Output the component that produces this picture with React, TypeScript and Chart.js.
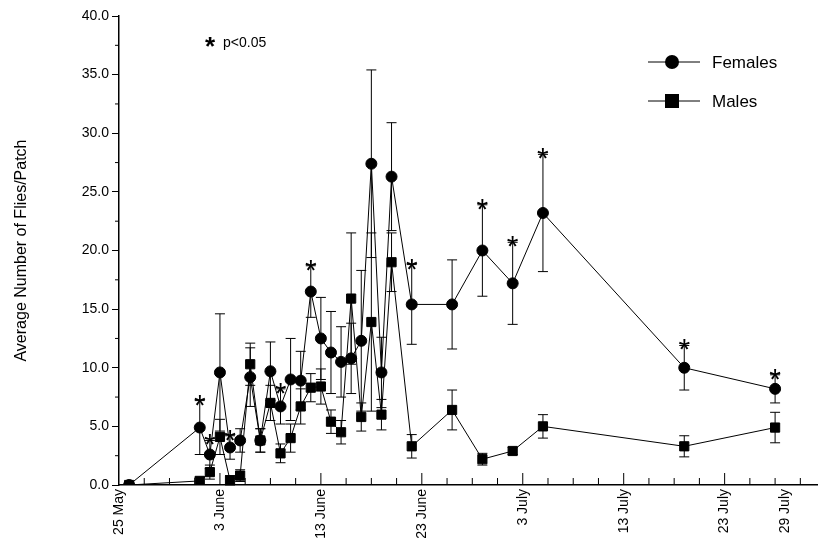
import { useEffect, useRef } from "react"
import { Chart, registerables } from "chart.js"

Chart.register(...registerables)

// x in axis units (10 units between major ticks)
const days = [1, 8, 9, 10, 11, 12, 13, 14, 15, 16, 17, 18, 19, 20, 21, 22, 23, 24, 25, 26, 27, 29, 33, 36, 39, 42, 56, 65]
const females = [0, 4.9, 2.6, 9.6, 3.2, 3.8, 9.2, 3.8, 9.7, 6.7, 9.0, 8.9, 16.5, 12.5, 11.3, 10.5, 10.8, 12.3, 27.4, 9.6, 26.3, 15.4, 15.4, 20.0, 17.2, 23.2, 10.0, 8.2]
const femalesErr = [0, 2.3, 1.2, 5.0, 1.0, 1.0, 2.5, 1.0, 2.5, 1.5, 3.5, 2.5, 2.2, 3.5, 3.5, 3.0, 3.0, 6.0, 8.0, 3.0, 4.6, 3.4, 3.8, 3.9, 3.5, 5.0, 1.9, 1.2]
const males = [0, 0.35, 1.1, 4.1, 0.4, 0.8, 10.3, 3.8, 7.0, 2.7, 4.0, 6.7, 8.3, 8.4, 5.4, 4.5, 15.9, 5.8, 13.9, 6.0, 19.0, 3.3, 6.4, 2.2, 2.9, 5.0, 3.3, 4.9]
const malesErr = [0, 0.3, 0.6, 1.5, 0.4, 0.5, 1.8, 1.0, 1.5, 0.8, 1.2, 1.5, 1.2, 1.5, 1.0, 1.0, 5.6, 1.2, 7.6, 1.3, 2.5, 1.0, 1.7, 0.5, 0.3, 1.0, 0.9, 1.3]
const significant = [8, 9, 11, 16, 19, 29, 36, 39, 42, 56, 65]
const tickValues = [0, 10, 20, 30, 40, 50, 60, 66]
const tickLabels = ["25 May", "3 June", "13 June", "23 June", "3 July", "13 July", "23 July", "29 July"]

const FONT = "'Liberation Sans', Arial, sans-serif"

const extrasPlugin = {
  id: "extras",
  afterDatasetsDraw(chart: any) {
    const { ctx, scales } = chart
    const x = scales.x
    const y = scales.y
    ctx.save()
    ctx.strokeStyle = "#000"
    ctx.lineWidth = 1
    // error bars
    const bars = (vals: number[], errs: number[]) => {
      vals.forEach((v, i) => {
        if (!errs[i]) return
        const px = x.getPixelForValue(days[i])
        const top = y.getPixelForValue(v + errs[i])
        const bot = y.getPixelForValue(Math.max(0, v - errs[i]))
        ctx.beginPath()
        ctx.moveTo(px, top)
        ctx.lineTo(px, bot)
        ctx.moveTo(px - 5, top)
        ctx.lineTo(px + 5, top)
        ctx.moveTo(px - 5, bot)
        ctx.lineTo(px + 5, bot)
        ctx.stroke()
      })
    }
    bars(females, femalesErr)
    bars(males, malesErr)
    // significance stars
    ctx.fillStyle = "#000"
    ctx.font = `30px ${FONT}`
    ctx.textAlign = "center"
    significant.forEach((d) => {
      const i = days.indexOf(d)
      const top = Math.max(females[i] + femalesErr[i], males[i] + malesErr[i])
      ctx.fillText("*", x.getPixelForValue(d), y.getPixelForValue(top) + 14)
    })
    // minor ticks
    ctx.beginPath()
    for (let v = 2.5; v < 40; v += 5) {
      const py = y.getPixelForValue(v)
      ctx.moveTo(x.left - 4, py)
      ctx.lineTo(x.left, py)
    }
    for (let v = 2.5; v < 70; v += 2.5) {
      if (v % 10 === 0) continue
      const px = x.getPixelForValue(v)
      ctx.moveTo(px, y.bottom)
      ctx.lineTo(px, y.bottom - 7)
    }
    for (let v = 10; v <= 60; v += 10) {
      const px = x.getPixelForValue(v)
      ctx.moveTo(px, y.bottom)
      ctx.lineTo(px, y.bottom - 12)
    }
    ctx.stroke()
    // note
    ctx.textAlign = "left"
    ctx.font = `bold 26px ${FONT}`
    ctx.fillText("*", 205, 55)
    ctx.font = `14px ${FONT}`
    ctx.fillText("p<0.05", 223, 47)
    // legend
    ctx.font = `17px ${FONT}`
    const legend = [
      { label: "Females", y: 62, shape: "circle" },
      { label: "Males", y: 101, shape: "square" },
    ]
    legend.forEach((l) => {
      ctx.beginPath()
      ctx.moveTo(648, l.y)
      ctx.lineTo(700, l.y)
      ctx.stroke()
      ctx.beginPath()
      if (l.shape === "circle") ctx.arc(672, l.y, 7, 0, Math.PI * 2)
      else ctx.rect(665, l.y - 7, 14, 14)
      ctx.fill()
      ctx.textBaseline = "middle"
      ctx.fillText(l.label, 712, l.y + 1)
    })
    ctx.restore()
  },
}

export default function App() {
  const chartRef = useRef<HTMLCanvasElement>(null)

  useEffect(() => {
    document.body.style.margin = "0"
    if (!chartRef.current) return
    const ctx = chartRef.current.getContext("2d")
    if (!ctx) return

    const chart = new Chart(ctx, {
      type: "line",
      data: {
        datasets: [
          {
            label: "Females",
            data: days.map((d, i) => ({ x: d, y: females[i] })),
            borderColor: "#000",
            backgroundColor: "#000",
            borderWidth: 1,
            pointStyle: "circle",
            pointRadius: 5.5,
          },
          {
            label: "Males",
            data: days.map((d, i) => ({ x: d, y: males[i] })),
            borderColor: "#000",
            backgroundColor: "#000",
            borderWidth: 1,
            pointStyle: "rect",
            pointRadius: 6.5,
          },
        ],
      },
      options: {
        animation: false,
        responsive: false,
        layout: { padding: { top: 16, right: 0 } },
        plugins: { legend: { display: false }, tooltip: { enabled: false } },
        scales: {
          x: {
            type: "linear",
            min: 0,
            max: 69.2,
            afterBuildTicks: (axis: any) => {
              axis.ticks = tickValues.map((v) => ({ value: v }))
            },
            afterFit: (axis: any) => {
              axis.height = 72
            },
            grid: { display: false, drawTicks: false },
            border: { color: "#000", width: 1.5 },
            ticks: {
              color: "#000",
              font: { family: FONT, size: 14 },
              maxRotation: 90,
              minRotation: 90,
              autoSkip: false,
              padding: 4,
              callback: (v: any) => tickLabels[tickValues.indexOf(Number(v))] ?? "",
            },
          },
          y: {
            min: 0,
            max: 40,
            afterFit: (axis: any) => {
              axis.width = 119
            },
            grid: { drawOnChartArea: false, tickLength: 7, color: "#000" },
            border: { color: "#000", width: 1.5 },
            title: {
              display: true,
              text: "Average Number of Flies/Patch",
              color: "#000",
              font: { family: FONT, size: 16 },
              padding: { top: 12, bottom: 0 },
            },
            ticks: {
              stepSize: 5,
              color: "#000",
              font: { family: FONT, size: 14 },
              callback: (v: any) => Number(v).toFixed(1),
            },
          },
        },
      },
      plugins: [extrasPlugin],
    })

    return () => chart.destroy()
  }, [])

  return <canvas ref={chartRef} width={825} height={557} style={{ display: "block" }} />
}
